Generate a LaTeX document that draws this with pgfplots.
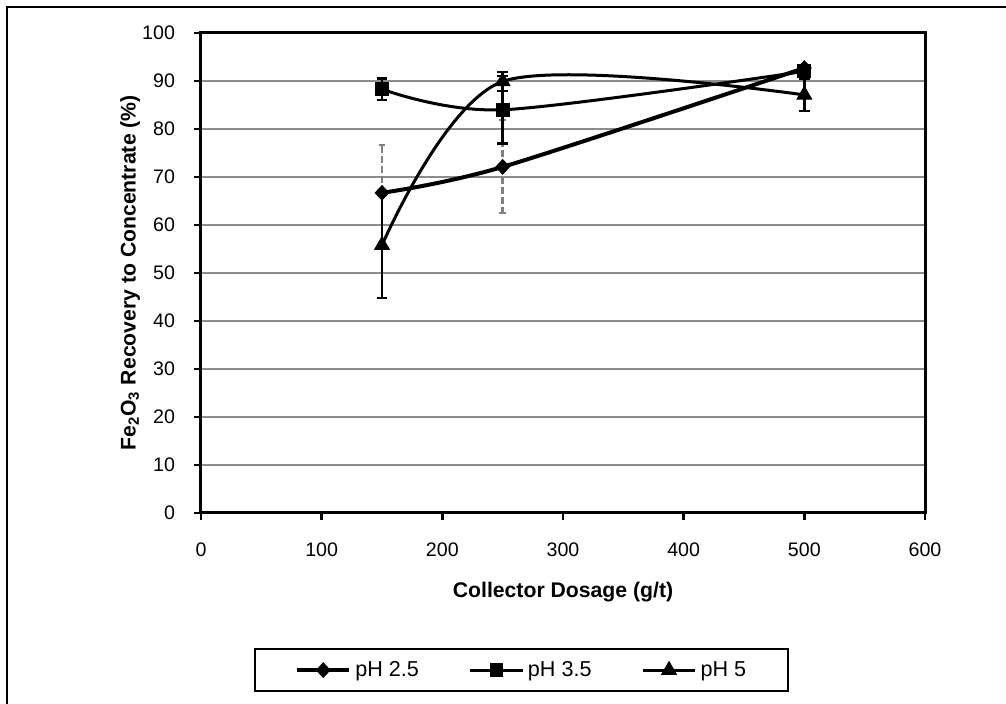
\documentclass[border=0pt]{standalone}
\usepackage{pgfplots}
\pgfplotsset{compat=1.18}
\usepackage{fontspec}
\setmainfont{Liberation Sans}
\begin{document}
\begin{tikzpicture}
\path[use as bounding box] (-100.5pt,-95.5pt) rectangle (402.5pt,256.5pt);
\begin{scope}
\clip (-100.5pt,-95.5pt) rectangle (402.5pt,256.5pt);
\draw[line width=1pt, black] (-97pt,253pt) rectangle (420pt,-120pt);
\end{scope}
\begin{axis}[
  at={(0,0)}, anchor=south west,
  scale only axis, width=362pt, height=240pt,
  xmin=0, xmax=600, ymin=0, ymax=100,
  xtick={0,100,200,300,400,500,600},
  ytick={0,10,20,30,40,50,60,70,80,90,100},
  xtick pos=left, ytick pos=left,
  tick align=outside, major tick length=3.5pt,
  tick style={black, line width=1.2pt},
  axis line style={line width=1.5pt, black},
  ymajorgrids, grid style={color={rgb,255:red,140;green,140;blue,140}, line width=0.7pt},
  /pgf/number format/assume math mode=true,
  ticklabel style={font=\fontsize{9.8}{11}\selectfont},
  x tick label style={yshift=-8pt},
  y tick label style={xshift=-6pt},
  xlabel={\bfseries Collector Dosage (g/t)},
  ylabel={\bfseries Fe\textsubscript{2}O\textsubscript{3} Recovery to Concentrate (\%)},
  label style={font=\fontsize{10.6}{12}\selectfont\bfseries},
  xlabel style={at={(axis description cs:0.5,-0.165)}, anchor=center},
  ylabel style={at={(axis description cs:-0.098,0.5)}, anchor=center},
  legend columns=3,
  legend style={at={(axis description cs:0.443,-0.281)}, anchor=north,
    draw=black, line width=1.2pt, inner xsep=20pt, inner ysep=5pt,
    font=\fontsize{10.8}{12}\selectfont,
    /tikz/every even column/.append style={column sep=24pt},
    /tikz/every odd column/.append style={column sep=1pt},
    nodes={inner sep=1pt}},
  legend image code/.code={\draw[mark repeat=2,mark phase=2] plot coordinates {(0pt,0pt) (13pt,0pt) (26pt,0pt)};},
]
\addplot+[black, line width=2pt, smooth, mark=diamond*, mark size=3.6pt,
  mark options={solid, fill=black, line width=0.5pt, xscale=1.25},
  error bars/.cd, y dir=both, y explicit, error mark=-,
  error bar style={color={rgb,255:red,128;green,128;blue,128}, dash pattern=on 3.5pt off 1.5pt, line width=1.3pt},
  error mark options={rotate=90, color={rgb,255:red,128;green,128;blue,128}, solid, mark size=1.6pt, line width=1pt}]
  coordinates {(150,66.7) +- (0,10.0) (250,72.1) +- (0,9.7) (500,92.7) +- (0,0.5)};
\addlegendentry{pH 2.5}
\addplot+[black, line width=1.5pt, smooth, mark=square*, mark size=3.2pt,
  mark options={solid, fill=black, line width=0.5pt},
  error bars/.cd, y dir=both, y explicit, error mark=-,
  error bar style={black, solid, line width=1.2pt},
  error mark options={rotate=90, black, solid, mark size=2.6pt, line width=1.2pt}]
  coordinates {(150,88.3) +- (0,2.2) (250,84.0) +- (0,7.0) (500,92.0) +- (0,0.8)};
\addlegendentry{pH 3.5}
\addplot+[black, line width=1.5pt, smooth, mark=triangle*, mark size=4.2pt,
  mark options={solid, fill=black, line width=0.5pt},
  error bars/.cd, y dir=both, y explicit, error mark=-,
  error bar style={black, solid, line width=1.2pt},
  error mark options={rotate=90, black, solid, mark size=2.6pt, line width=1.2pt}]
  coordinates {(150,55.8) +- (0,11.0) (250,89.9) +- (0,2.0) (500,87.1) +- (0,3.3)};
\addlegendentry{pH 5}
\end{axis}
\end{tikzpicture}
\end{document}
